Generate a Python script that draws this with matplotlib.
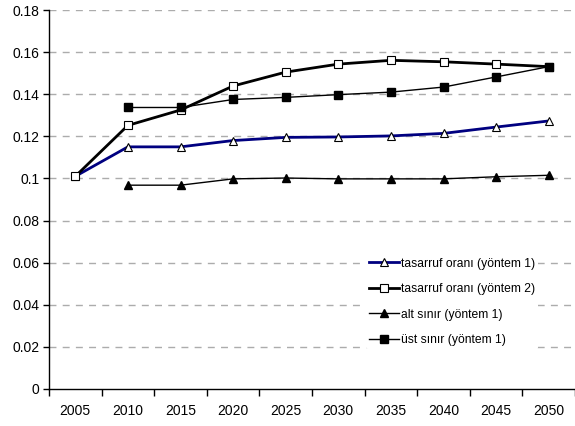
import matplotlib
matplotlib.use("Agg")
import matplotlib.pyplot as plt
import numpy as np

years = ["2005", "2010", "2015", "2020", "2025", "2030", "2035", "2040", "2045", "2050"]
tasarruf_y1 = [0.101, 0.115, 0.115, 0.118, 0.1195, 0.1197, 0.1202, 0.1214, 0.1244, 0.1273]
tasarruf_y2 = [0.101, 0.1252, 0.1325, 0.1439, 0.1505, 0.1543, 0.1561, 0.1554, 0.1543, 0.1531]
alt_sinir = [np.nan, 0.0968, 0.0968, 0.0998, 0.1002, 0.0998, 0.0998, 0.0998, 0.1008, 0.1015]
ust_sinir = [np.nan, 0.1337, 0.1337, 0.1375, 0.1385, 0.1398, 0.1410, 0.1434, 0.1482, 0.1531]
labels = ["tasarruf oranı (yöntem 1)", "tasarruf oranı (yöntem 2)",
          "alt sınır (yöntem 1)", "üst sınır (yöntem 1)"]
yticks = [0, 0.02, 0.04, 0.06, 0.08, 0.1, 0.12, 0.14, 0.16, 0.18]
ytick_labels = ["0", "0.02", "0.04", "0.06", "0.08", "0.1", "0.12", "0.14", "0.16", "0.18"]

plt.rcParams['font.family'] = ['Liberation Sans', 'DejaVu Sans']

fig = plt.figure(figsize=(5.75, 4.26), dpi=100)
ax = fig.add_axes([49/575, 37/426, 526/575, 379/426])

x = np.arange(len(years))
ax.plot(x, tasarruf_y1, color="#000080", lw=2, marker="^", ms=6.3, mfc="white", mec="black", mew=0.8, label=labels[0], zorder=3)
ax.plot(x, tasarruf_y2, color="black", lw=2, marker="s", ms=5.3, mfc="white", mec="black", mew=0.8, label=labels[1], zorder=4)
ax.plot(x, alt_sinir, color="black", lw=1, marker="^", ms=6.3, mfc="black", mec="black", label=labels[2], zorder=5)
ax.plot(x, ust_sinir, color="black", lw=1, marker="s", ms=5.3, mfc="black", mec="black", label=labels[3], zorder=6)

ax.set_xlim(-0.5, len(years) - 0.5)
ax.set_ylim(0, 0.18)
ax.set_yticks(yticks)
ax.set_yticklabels(ytick_labels, fontsize=10)
ax.set_xticks(x)
ax.set_xticklabels(years, fontsize=10)
ax.tick_params(axis="x", length=0, pad=11)
ax.set_xticks(np.arange(-0.5, len(years), 1.0), minor=True)
ax.tick_params(axis="x", which="minor", length=5, width=1, direction="out")
ax.tick_params(axis="y", length=4, width=1, direction="out", pad=3)

for v in yticks[1:]:
    ax.axhline(v, color="#acacac", lw=1, dashes=(5, 4.5), zorder=1)

for s in ["top", "right"]:
    ax.spines[s].set_visible(False)
ax.spines["left"].set_linewidth(1)
ax.spines["bottom"].set_linewidth(1)

leg = ax.legend(loc="lower left", bbox_to_anchor=(0.603, 0.105), frameon=True, fontsize=8.7,
                handlelength=2.45, handletextpad=0.15, labelspacing=1.12, borderpad=0.25,
                borderaxespad=0)
leg.get_frame().set_edgecolor("none")
leg.get_frame().set_facecolor("white")
leg.get_frame().set_alpha(1)

fig.savefig("out.png", dpi=100)
